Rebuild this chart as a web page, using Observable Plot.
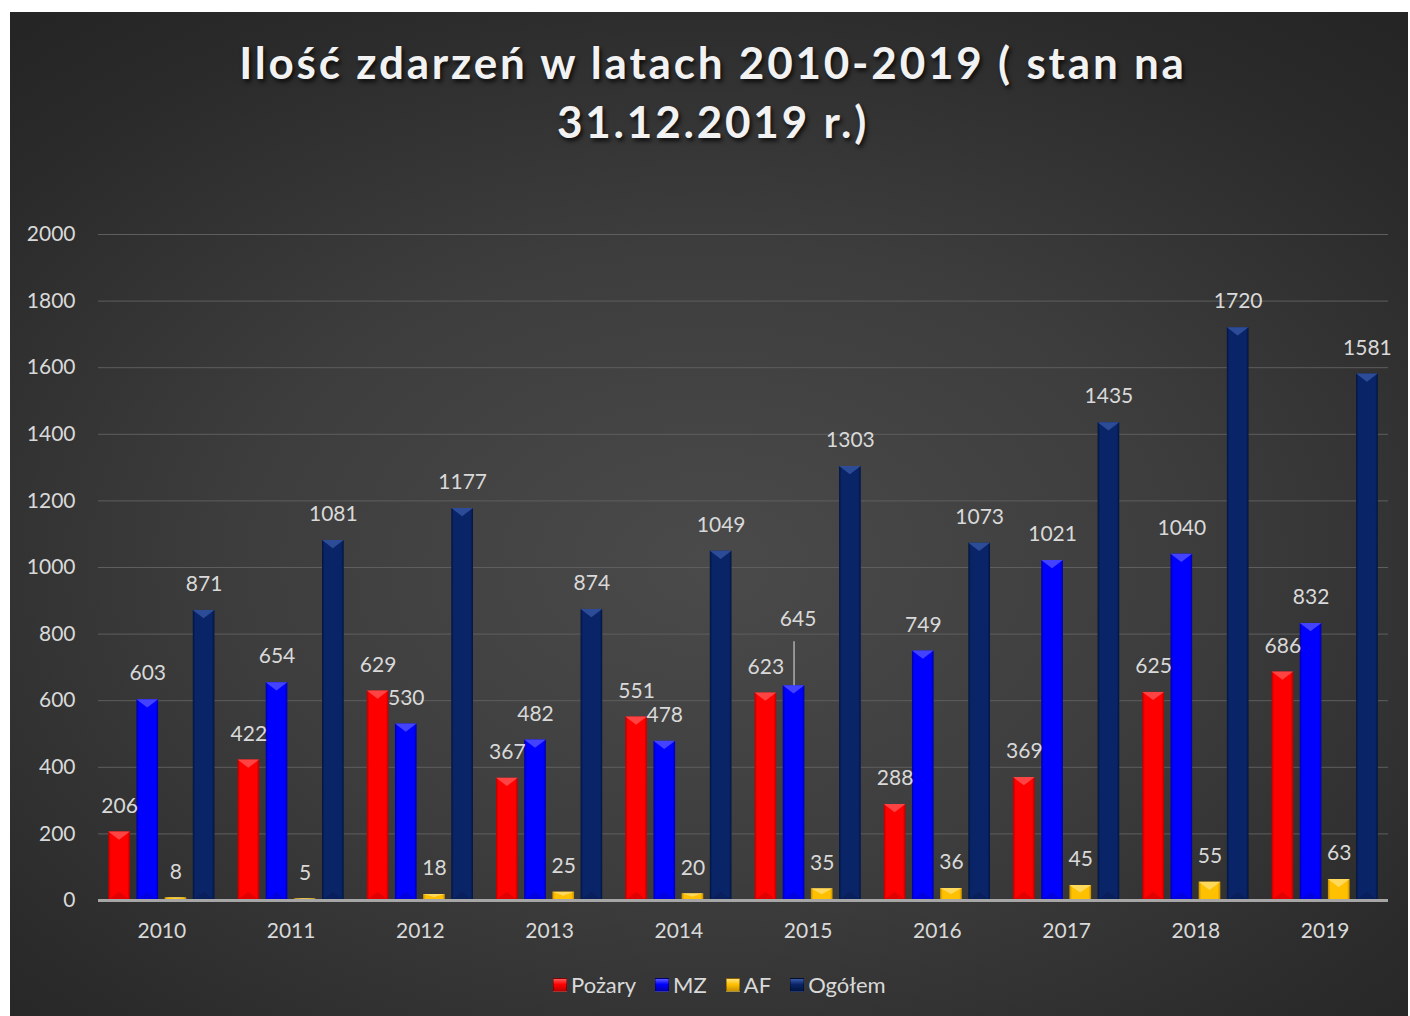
<!DOCTYPE html>
<html><head><meta charset="utf-8">
<script src="https://cdn.jsdelivr.net/npm/d3@7"></script>
<script src="https://cdn.jsdelivr.net/npm/@observablehq/plot@0.6"></script>
<style>
html,body{margin:0;padding:0;background:#fff;}
body{width:1410px;height:1016px;overflow:hidden;position:relative;font-family:Lato,"Open Sans",sans-serif;}
#panel{position:absolute;left:10px;top:12px;width:1398px;height:1004px;
  background:radial-gradient(ellipse 75% 70% at 50% 55%, #4a4a4a 0%, #3d3d3d 45%, #2a2a2a 85%, #252525 100%);overflow:hidden;}
#title{position:absolute;left:4px;top:21px;width:1398px;text-align:center;color:#f2f2f2;font-weight:bold;
  font-size:44px;line-height:59px;letter-spacing:2.8px;text-shadow:2px 3px 4px rgba(0,0,0,0.75);}
#grid,#bars,#base{position:absolute;left:0;top:188px;}
#legend{position:absolute;left:543px;top:960px;display:flex;align-items:center;color:#d9d9d9;font-size:22px;line-height:26px;}
#legend .item{display:flex;align-items:center;margin-right:19px;}
#legend .sw{width:12px;height:12px;margin-right:4px;border:1px solid rgba(0,0,0,0.35);box-sizing:content-box;}
</style></head>
<body>
<div id="panel">
  <div id="title">Ilość zdarzeń w latach 2010-2019 ( stan na<br>31.12.2019 r.)</div>
  <div id="grid"></div>
  <div id="bars"></div>
  <div id="base"></div>
  <div id="legend"></div>
</div>
<script>
const years = ["2010","2011","2012","2013","2014","2015","2016","2017","2018","2019"];
const series = ["Pożary","MZ","AF","Ogółem"];
const pozary = [206,422,629,367,551,623,288,369,625,686];
const mz = [603,654,530,482,478,645,749,1021,1040,832];
const af = [8,5,18,25,20,35,36,45,55,63];
const ogolem = [871,1081,1177,874,1049,1303,1073,1435,1720,1581];
const yTicks = [0,200,400,600,800,1000,1200,1400,1600,1800,2000];
const baseColors = ["#ff0000","#0000ff","#ffc000","#0a2468"];
const edgeColors = ["#b80000","#0000a8","#c89000","#011540"];
const topColors = ["#ff5a5a","#5a5aff","#ffe27a","#3a5aa8"];

const values = [pozary, mz, af, ogolem];
const rows = [];
years.forEach((yr, i) => {
  series.forEach((s, j) => {
    const lifted = s === "MZ" && Math.abs(mz[i] - pozary[i]) < 40;
    rows.push({year: yr, series: s, value: values[j][i], lifted});
  });
});

const W = 1398, H = 750;
const common = {width: W, height: H, marginTop: 34, marginBottom: 50, marginLeft: 88, marginRight: 20};
const txtStyle = {background: "transparent", fontFamily: "Lato, 'Open Sans', sans-serif", fontSize: "21px", color: "#d9d9d9", overflow: "visible"};

// background: gridlines + y axis
const grid = Plot.plot({
  ...common,
  style: txtStyle,
  y: {domain: [0, 2000], ticks: yTicks, tickFormat: d => String(d), tickSize: 0, tickPadding: 23, label: null},
  marks: [
    Plot.ruleY(yTicks.slice(1), {stroke: "#5e5e5e", strokeWidth: 1})
  ]
});
document.getElementById("grid").appendChild(grid);

const fills = series.map((s, i) => `url(#grad${i})`);
const bars = Plot.plot({
  ...common,
  style: txtStyle,
  y: {domain: [0, 2000], axis: null},
  x: {domain: series, axis: null, paddingInner: 0.23, paddingOuter: 0, round: false},
  fx: {domain: years, paddingInner: 0.178, paddingOuter: 0.079, round: false, tickSize: 0, tickPadding: 23, label: null},
  color: {domain: series, range: fills},
  marks: [
    Plot.barY(rows, {fx: "year", x: "series", y: "value", fill: "series"}),
    Plot.text(rows.filter(d => !d.lifted), {fx: "year", x: "series", y: "value", text: d => String(d.value), dy: -26, fill: "#d9d9d9", fontSize: 21}),
    Plot.text(rows.filter(d => d.lifted), {fx: "year", x: "series", y: "value", text: d => String(d.value), dy: -66, dx: 4, fill: "#d9d9d9", fontSize: 21}),
    Plot.ruleX(rows.filter(d => d.lifted), {fx: "year", x: "series", y1: "value", y2: "value", insetTop: -44, stroke: "#c8c8c8", strokeWidth: 1.2})
  ]
});
document.getElementById("bars").appendChild(bars);

// baseline overlay
const base = Plot.plot({
  ...common,
  style: txtStyle,
  y: {domain: [0, 2000], axis: null},
  marks: [Plot.ruleY([0], {stroke: "#a6a6a6", strokeWidth: 3})]
});
document.getElementById("base").appendChild(base);

// gradients
const svg = d3.select(bars);
const defs = svg.insert("defs", ":first-child");
series.forEach((s, i) => {
  const g = defs.append("linearGradient").attr("id", `grad${i}`).attr("x1", 0).attr("x2", 1).attr("y1", 0).attr("y2", 0);
  g.append("stop").attr("offset", "0%").attr("stop-color", edgeColors[i]);
  g.append("stop").attr("offset", "12%").attr("stop-color", baseColors[i]);
  g.append("stop").attr("offset", "88%").attr("stop-color", baseColors[i]);
  g.append("stop").attr("offset", "100%").attr("stop-color", edgeColors[i]);
});
// bevel caps derived from rendered bars
svg.selectAll("g[aria-label='bar'] rect").each(function() {
  const r = d3.select(this);
  const x = +r.attr("x"), y = +r.attr("y"), w = +r.attr("width"), h = +r.attr("height");
  const fill = r.attr("fill") || "";
  const idx = Math.max(0, fills.indexOf(fill));
  const th = Math.min(w * 0.38, h / 2);
  const p = d3.select(this.parentNode);
  p.append("polygon")
    .attr("points", `${x},${y} ${x + w},${y} ${x + w / 2},${y + th}`)
    .attr("fill", topColors[idx]).attr("opacity", 0.75)
    .attr("transform", r.attr("transform"));
  if (h > w) {
    p.append("polygon")
      .attr("points", `${x},${y + h} ${x + w},${y + h} ${x + w / 2},${y + h - th}`)
      .attr("fill", "#000").attr("opacity", 0.12)
      .attr("transform", r.attr("transform"));
  }
});

// legend
const lg = document.getElementById("legend");
series.forEach((s, i) => {
  const it = document.createElement("div"); it.className = "item";
  const sw = document.createElement("span"); sw.className = "sw";
  sw.style.background = `linear-gradient(180deg, ${topColors[i]} 0%, ${baseColors[i]} 45%, ${edgeColors[i]} 100%)`;
  const t = document.createElement("span"); t.textContent = s;
  it.appendChild(sw); it.appendChild(t); lg.appendChild(it);
});
</script>
</body></html>
